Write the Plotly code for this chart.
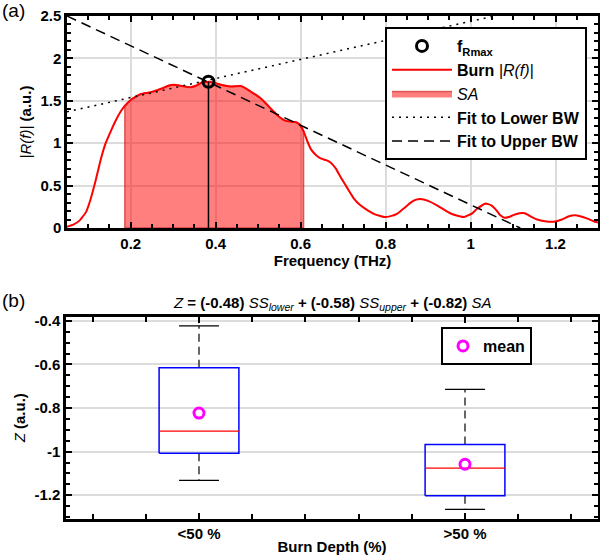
import plotly.graph_objects as go

# ---------------- data: panel (a) ----------------
freq_thz = [0.05, 0.065, 0.08, 0.095, 0.105, 0.117, 0.129, 0.141, 0.153, 0.165,
            0.176, 0.186, 0.2, 0.212, 0.224, 0.247, 0.271, 0.29, 0.302, 0.315,
            0.325, 0.341, 0.355, 0.365, 0.383, 0.398, 0.412, 0.435, 0.459, 0.47,
            0.482, 0.495, 0.506, 0.52, 0.535, 0.55, 0.562, 0.575, 0.588, 0.598,
            0.607, 0.616, 0.624, 0.636, 0.647, 0.66, 0.671, 0.683, 0.694, 0.71,
            0.725, 0.74, 0.757, 0.775, 0.796, 0.812, 0.828, 0.845, 0.859, 0.872,
            0.886, 0.9, 0.92, 0.95, 0.965, 0.985, 1.003, 1.016, 1.035, 1.048,
            1.059, 1.07, 1.08, 1.09, 1.102, 1.115, 1.128, 1.14, 1.157, 1.175,
            1.196, 1.215, 1.23, 1.245, 1.26, 1.275, 1.29, 1.3]
burn_r = [0.015, 0.04, 0.09, 0.19, 0.33, 0.55, 0.80, 1.00, 1.14, 1.27,
          1.37, 1.44, 1.51, 1.55, 1.58, 1.60, 1.64, 1.68, 1.69, 1.68,
          1.67, 1.66, 1.68, 1.71, 1.725, 1.71, 1.69, 1.67, 1.675, 1.65,
          1.61, 1.57, 1.53, 1.46, 1.38, 1.31, 1.27, 1.255, 1.25, 1.22,
          1.14, 1.02, 0.93, 0.86, 0.82, 0.80, 0.77, 0.70, 0.60, 0.47,
          0.35, 0.27, 0.21, 0.16, 0.13, 0.14, 0.17, 0.24, 0.30, 0.335,
          0.34, 0.32, 0.27, 0.18, 0.15, 0.13, 0.17, 0.23, 0.29, 0.27,
          0.22, 0.15, 0.12, 0.13, 0.155, 0.175, 0.175, 0.14, 0.10, 0.08,
          0.075, 0.10, 0.135, 0.15, 0.135, 0.11, 0.08, 0.065]

sa_band = [0.186, 0.607]          # integration band for SA (THz)
f_rmax = 0.383                    # frequency of max |R(f)|
r_max = 1.725

lower_fit_x = [0.05, 1.056]
lower_fit_y = [1.37, 2.5]
upper_fit_x = [0.05, 1.117]
upper_fit_y = [2.5, 0.0]

freq_ticks = [0.2, 0.4, 0.6, 0.8, 1.0, 1.2]
freq_ticklabels = ["0.2", "0.4", "0.6", "0.8", "1", "1.2"]
r_ticks = [0, 0.5, 1.0, 1.5, 2.0, 2.5]
r_ticklabels = ["0", "0.5", "1", "1.5", "2", "2.5"]

# ---------------- data: panel (b) ----------------
groups = ["&lt;50 %", "&gt;50 %"]
group_pos = [1, 2]
q1 = [-1.007, -1.202]
median = [-0.906, -1.076]
q3 = [-0.615, -0.967]
whisk_lo = [-1.132, -1.265]
whisk_hi = [-0.423, -0.714]
means = [-0.823, -1.058]
z_ticks = [-1.2, -1.0, -0.8, -0.6, -0.4]
z_ticklabels = ["-1.2", "-1", "-0.8", "-0.6", "-0.4"]

FONT = "Liberation Sans, Arial, Helvetica, sans-serif"
BOX_W = 0.30
CAP_W = 0.15

def bold(labels):
    return ["<b>%s</b>" % s for s in labels]

fig = go.Figure()

# ---- panel (a) traces ----
inside = [(f, r) for f, r in zip(freq_thz, burn_r) if sa_band[0] <= f <= sa_band[1]]
sa_x = [sa_band[0]] + [f for f, _ in inside] + [sa_band[1], sa_band[1], sa_band[0]]
sa_y = [0] + [r for _, r in inside] + [inside[-1][1], 0, 0]

fig.add_trace(go.Scatter(x=sa_x, y=sa_y, fill="toself", mode="lines",
                         fillcolor="rgba(255,0,0,0.5)",
                         line=dict(color="rgba(200,0,0,0.55)", width=1.5),
                         name="<i>SA</i>", legendrank=3, hoverinfo="skip"))
fig.add_trace(go.Scatter(x=freq_thz, y=burn_r, mode="lines",
                         line=dict(color="#ff0000", width=2, shape="spline", smoothing=0.3),
                         name="<b>Burn</b> <i>|R(f)|</i>", legendrank=2))
fig.add_trace(go.Scatter(x=lower_fit_x, y=lower_fit_y, mode="lines",
                         line=dict(color="black", width=1.5, dash="2px,5px"),
                         name="<b>Fit to Lower BW</b>", legendrank=4))
fig.add_trace(go.Scatter(x=upper_fit_x, y=upper_fit_y, mode="lines",
                         line=dict(color="black", width=1.5, dash="10px,6px"),
                         name="<b>Fit to Upper BW</b>", legendrank=5))
fig.add_trace(go.Scatter(x=[f_rmax, f_rmax], y=[0, r_max], mode="lines",
                         line=dict(color="black", width=1.5), showlegend=False))
fig.add_trace(go.Scatter(x=[f_rmax], y=[r_max], mode="markers",
                         marker=dict(symbol="circle-open", size=11, color="black",
                                     line=dict(width=3, color="black")),
                         name="<b>f<sub>Rmax</sub></b>", legendrank=1))

# ---- panel (b) traces ----
for i, p in enumerate(group_pos):
    xa, xb = p - BOX_W / 2, p + BOX_W / 2
    ca, cb = p - CAP_W / 2, p + CAP_W / 2
    fig.add_trace(go.Scatter(x=[p, p, None, p, p], y=[q3[i], whisk_hi[i], None, q1[i], whisk_lo[i]],
                             mode="lines", line=dict(color="black", width=1.2, dash="8px,5px"),
                             xaxis="x2", yaxis="y2", showlegend=False))
    fig.add_trace(go.Scatter(x=[ca, cb, None, ca, cb], y=[whisk_hi[i], whisk_hi[i], None, whisk_lo[i], whisk_lo[i]],
                             mode="lines", line=dict(color="black", width=1.2),
                             xaxis="x2", yaxis="y2", showlegend=False))
    fig.add_trace(go.Scatter(x=[xa, xb, xb, xa, xa], y=[q1[i], q1[i], q3[i], q3[i], q1[i]],
                             mode="lines", line=dict(color="#0000ff", width=1.5),
                             xaxis="x2", yaxis="y2", showlegend=False))
    fig.add_trace(go.Scatter(x=[xa, xb], y=[median[i], median[i]],
                             mode="lines", line=dict(color="#ff0000", width=1.3),
                             xaxis="x2", yaxis="y2", showlegend=False))

fig.add_trace(go.Scatter(x=group_pos, y=means, mode="markers",
                         marker=dict(symbol="circle-open", size=10, color="#ff00ff",
                                     line=dict(width=3, color="#ff00ff")),
                         name="<b>mean</b>", xaxis="x2", yaxis="y2", legend="legend2"))

W, H = 600, 557
def px_x(v):
    return v / W
def px_y(v):
    return 1 - v / H

axis_common = dict(
    showline=True, linewidth=2.5, linecolor="black", mirror="allticks",
    ticks="inside", ticklen=6, tickwidth=2, tickcolor="black",
    showgrid=True, gridcolor="#dcdcdc", gridwidth=2, zeroline=False,
    tickfont=dict(family=FONT, size=15, color="black"),
    automargin=False, tickmode="array",
)

fig.update_layout(
    width=W, height=H,
    margin=dict(l=0, r=0, t=0, b=0),
    paper_bgcolor="white", plot_bgcolor="white",
    font=dict(family=FONT, color="black"),
    xaxis=dict(domain=[px_x(67), px_x(598)], range=[0.05, 1.3],
               tickvals=freq_ticks, ticktext=bold(freq_ticklabels),
               minor=dict(ticks="inside", tickmode="linear", tick0=0, dtick=0.05, ticklen=4, tickwidth=1.5,
                          tickcolor="black", showgrid=False),
               title=dict(text="<b>Frequency (THz)</b>", font=dict(size=15, family=FONT), standoff=3),
               anchor="y", **axis_common),
    yaxis=dict(domain=[px_y(228), px_y(16)], range=[0, 2.5],
               tickvals=r_ticks, ticktext=bold(r_ticklabels),
               minor=dict(ticks="inside", tickmode="linear", tick0=0, dtick=0.1, ticklen=4, tickwidth=1.5,
                          tickcolor="black", showgrid=False),
               title=dict(text="<i>|R(f)|</i> <b>(a.u.)</b>", font=dict(size=15, family=FONT), standoff=6),
               anchor="x", **axis_common),
    xaxis2=dict(domain=[px_x(66), px_x(598)], range=[0.5, 2.5],
                tickvals=group_pos, ticktext=bold(groups),
                minor=dict(ticks="inside", tickmode="linear", tick0=0, dtick=0.2, ticklen=5, tickwidth=2,
                           tickcolor="black", showgrid=False),
                title=dict(text="<b>Burn Depth (%)</b>", font=dict(size=15, family=FONT), standoff=1),
                anchor="y2", **{**axis_common, "showgrid": False}),
    yaxis2=dict(domain=[px_y(518.5), px_y(317)], range=[-1.307, -0.382],
                tickvals=z_ticks, ticktext=bold(z_ticklabels),
                minor=dict(ticks="inside", tickmode="linear", tick0=0, dtick=0.05, ticklen=4, tickwidth=1.5,
                           tickcolor="black", showgrid=False),
                title=dict(text="<i>Z</i> <b>(a.u.)</b>", font=dict(size=15, family=FONT), standoff=6),
                anchor="x2", **axis_common),
    legend=dict(x=px_x(385), y=px_y(27), xanchor="left", yanchor="top",
                bgcolor="white", bordercolor="black", borderwidth=2,
                font=dict(family=FONT, size=16, color="black"),
                itemwidth=60, traceorder="normal", tracegroupgap=0),
    legend2=dict(x=px_x(441), y=px_y(327), xanchor="left", yanchor="top",
                 bgcolor="white", bordercolor="black", borderwidth=2,
                 font=dict(family=FONT, size=16, color="black"), itemwidth=30),
    annotations=[
        dict(text="(a)", x=0, y=1.003, xref="paper", yref="paper", xanchor="left", yanchor="top",
             showarrow=False, font=dict(size=19, family=FONT)),
        dict(text="(b)", x=0, y=px_y(288), xref="paper", yref="paper", xanchor="left", yanchor="top",
             showarrow=False, font=dict(size=19, family=FONT)),
        dict(text="<i>Z</i> <b>= (-0.48)</b> <i>SS<sub>lower</sub></i><b> + (-0.58)</b> "
                  "<i>SS<sub>upper</sub></i><b> + (-0.82)</b> <i>SA</i>",
             x=px_x(332), y=px_y(303), xref="paper", yref="paper", xanchor="center", yanchor="middle",
             showarrow=False, font=dict(size=15, family=FONT)),
    ],
)

fig.write_html("out.html", config={"displayModeBar": False},
               post_script="document.body.style.margin='0';")
